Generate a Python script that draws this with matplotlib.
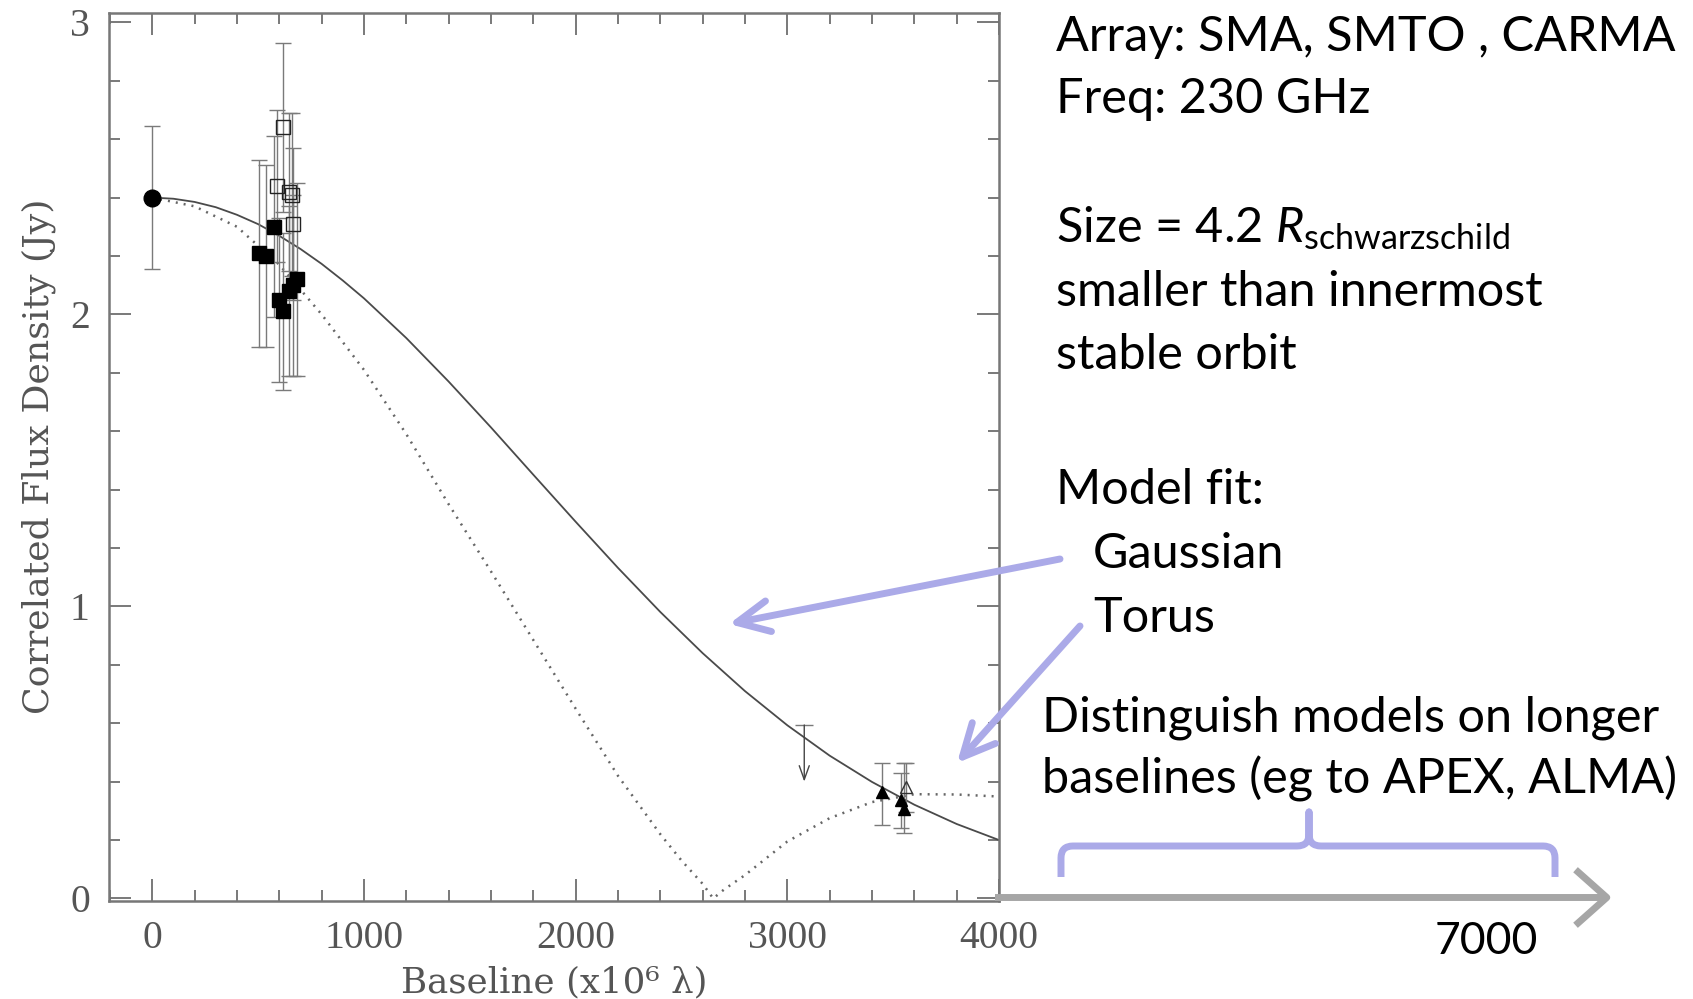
import matplotlib
matplotlib.use('Agg')
import matplotlib.pyplot as plt
from matplotlib.patches import FancyArrowPatch, PathPatch
from matplotlib.path import Path
from matplotlib.ticker import MultipleLocator

# ---- data ----
# model curves (baseline in 10^6 lambda, flux in Jy)
model_u = [0, 100, 200, 300, 400, 500, 600, 700, 800, 900, 1000, 1200, 1400,
           1600, 1800, 2000, 2200, 2400, 2600, 2800, 3000, 3200, 3400, 3600,
           3800, 4000]
gauss_flux = [2.400, 2.396, 2.385, 2.367, 2.341, 2.309, 2.269, 2.224, 2.173,
              2.116, 2.055, 1.919, 1.770, 1.613, 1.451, 1.290, 1.132, 0.981,
              0.840, 0.710, 0.593, 0.489, 0.399, 0.321, 0.255, 0.200]
torus_u = [0, 200, 400, 600, 800, 1000, 1200, 1400, 1600, 1800, 2000, 2200,
           2400, 2500, 2600, 2650, 2700, 2800, 3000, 3200, 3400, 3600, 3800, 4000]
torus_flux = [2.40, 2.37, 2.30, 2.17, 2.00, 1.81, 1.59, 1.35, 1.12, 0.885,
              0.65, 0.42, 0.22, 0.13, 0.05, 0.0, 0.03, 0.08, 0.195, 0.275,
              0.33, 0.357, 0.356, 0.349]

# short-baseline point (filled circle)
circ_x = [0]
circ_y = [2.40]
circ_err = [0.245]

# filled squares
fsq_x = [502, 537, 573, 597, 618, 644, 665, 684]
fsq_y = [2.21, 2.20, 2.30, 2.05, 2.01, 2.08, 2.10, 2.12]
fsq_err = [0.32, 0.31, 0.31, 0.28, 0.27, 0.29, 0.31, 0.33]

# open squares
osq_x = [590, 617, 648, 660, 664]
osq_y = [2.44, 2.64, 2.42, 2.41, 2.31]
osq_err = [0.26, 0.29, 0.27, 0.28, 0.26]

# upper limit
ul_x = [3080]
ul_y = [0.594]
ul_tip = [0.40]

# long-baseline triangles
ftri_x = [3445, 3535, 3551]
ftri_y = [0.365, 0.337, 0.305]
ftri_lo = [0.114, 0.095, 0.082]
ftri_hi = [0.099, 0.091, 0.159]
otri_x = [3560]
otri_y = [0.380]
otri_err = [0.085]

W, H = 1693, 999
LAV = '#abaae8'
INK = '#555555'
serif = ['Liberation Serif', 'DejaVu Serif']

plt.rcParams['mathtext.fontset'] = 'custom'
plt.rcParams['mathtext.rm'] = 'Lato'
plt.rcParams['mathtext.it'] = 'Lato:italic'

fig = plt.figure(figsize=(W / 100, H / 100), dpi=100)
ax = fig.add_axes([109.3 / W, (H - 900.5) / H, (999 - 109.3) / W, (900.5 - 12.7) / H])

ax.plot(model_u, gauss_flux, color='#4a4a4a', lw=1.3, zorder=2)
ax.plot(torus_u, torus_flux, color='#666666', lw=1.8, ls=(0, (0.8, 2.4)), zorder=2)

eb = dict(ecolor='#7a7a7a', elinewidth=1.0, capsize=6, capthick=1.0, zorder=3)
ax.errorbar(circ_x, circ_y, yerr=circ_err, fmt='o', ms=12, color='black', **eb)
ax.errorbar(osq_x, osq_y, yerr=osq_err, fmt='s', ms=9.5, mfc='none', mec='#222222',
            mew=1.0, **eb)
ax.errorbar(fsq_x, fsq_y, yerr=fsq_err, fmt='s', ms=10, color='black', **eb)
ax.errorbar(otri_x, otri_y, yerr=otri_err, fmt='^', ms=8, mfc='none', mec='#333333',
            mew=1.0, **eb)
ax.errorbar(ftri_x, ftri_y, yerr=[ftri_lo, ftri_hi], fmt='^', ms=8, color='black', **eb)

# upper limit: cap plus downward arrow
ax.plot(ul_x, ul_y, marker='_', ms=13, mew=1.0, color='#7a7a7a', ls='none')
for x, y0, y1 in zip(ul_x, ul_y, ul_tip):
    ax.annotate('', xy=(x, y1), xytext=(x, y0),
                arrowprops=dict(arrowstyle='->,head_length=0.5,head_width=0.18',
                                color='#444444', lw=1.0, mutation_scale=20,
                                shrinkA=0, shrinkB=0))

ax.set_xlim(-203, 4000)
ax.set_ylim(-0.007, 3.033)
ax.xaxis.set_major_locator(MultipleLocator(1000))
ax.xaxis.set_minor_locator(MultipleLocator(200))
ax.yaxis.set_major_locator(MultipleLocator(1))
ax.yaxis.set_minor_locator(MultipleLocator(0.2))
ax.tick_params(which='both', direction='in', top=True, right=True, color=INK,
               labelcolor=INK, pad=14)
ax.tick_params(which='major', length=15.5, width=1.1)
ax.tick_params(which='minor', length=8, width=1.1)
for lab in ax.get_xticklabels() + ax.get_yticklabels():
    lab.set_family(serif)
    lab.set_fontsize(28.5)
for s in ax.spines.values():
    s.set_color('#777777')
    s.set_linewidth(1.8)

xl = ax.set_xlabel('Baseline (x10\u2076 \u03bb)', family='DejaVu Serif', fontsize=27,
                   color=INK, labelpad=6)
yl = ax.set_ylabel('Correlated Flux Density (Jy)', family='DejaVu Serif', fontsize=27,
                   color=INK, labelpad=10)

# scale the axis labels to the lengths they have in the original figure
fig.canvas.draw()
r = fig.canvas.get_renderer()
xl.set_fontsize(27 * 307 / xl.get_window_extent(r).width)
yl.set_fontsize(27 * 515 / yl.get_window_extent(r).height)


def fp(x, y):
    return (x / W, 1 - y / H)


txt = dict(family='Lato', fontsize=35, color='black', va='baseline', ha='left')
fig.text(*fp(1056, 51), 'Array: SMA, SMTO , CARMA', **txt)
fig.text(*fp(1056, 113), 'Freq: 230 GHz', **txt)
fig.text(*fp(1056, 242), r'Size = 4.2 $\mathit{R}_{\mathrm{schwarzschild}}$', **txt)
fig.text(*fp(1056, 306), 'smaller than innermost', **txt)
fig.text(*fp(1056, 369), 'stable orbit', **txt)
fig.text(*fp(1056, 504), 'Model fit:', **txt)
fig.text(*fp(1093, 568), 'Gaussian', **txt)
fig.text(*fp(1093, 632), 'Torus', **txt)
fig.text(*fp(1042, 731), 'Distinguish models on longer', **txt)
fig.text(*fp(1042, 794), 'baselines (eg to APEX, ALMA)', **txt)
fig.text(*fp(1486, 954), '7000', family='Lato', fontsize=32, color='black',
         va='baseline', ha='center')

# extended baseline axis (grey arrow)
fig.add_artist(FancyArrowPatch(fp(995, 897.5), fp(1612, 897.5), transform=fig.transFigure,
                               arrowstyle='->,head_length=0.45,head_width=0.4',
                               mutation_scale=50, lw=5, color='#a6a6a6',
                               shrinkA=0, shrinkB=0, capstyle='butt'))

# lavender pointer arrows
for tail, tip in [((1060, 559), (729, 624)), ((1080, 626), (957, 763))]:
    fig.add_artist(FancyArrowPatch(fp(*tail), fp(*tip), transform=fig.transFigure,
                                   arrowstyle='->,head_length=0.58,head_width=0.28',
                                   mutation_scale=40, lw=5, color=LAV,
                                   shrinkA=0, shrinkB=0))

# curly bracket over the extended baselines
pts = [(1061, 877), (1061, 858), (1061, 846), (1073, 846), (1297, 846), (1309, 846),
       (1309, 834), (1309, 812), (1309, 834), (1309, 846), (1321, 846), (1543, 846),
       (1555, 846), (1555, 858), (1555, 877)]
codes = [Path.MOVETO, Path.LINETO, Path.CURVE3, Path.CURVE3, Path.LINETO, Path.CURVE3,
         Path.CURVE3, Path.LINETO, Path.LINETO, Path.CURVE3, Path.CURVE3, Path.LINETO,
         Path.CURVE3, Path.CURVE3, Path.LINETO]
brace = Path([fp(x, y) for x, y in pts], codes)
fig.add_artist(PathPatch(brace, transform=fig.transFigure, fill=False, lw=5,
                         edgecolor=LAV, capstyle='butt', joinstyle='round'))

fig.savefig('out.png', dpi=100)
